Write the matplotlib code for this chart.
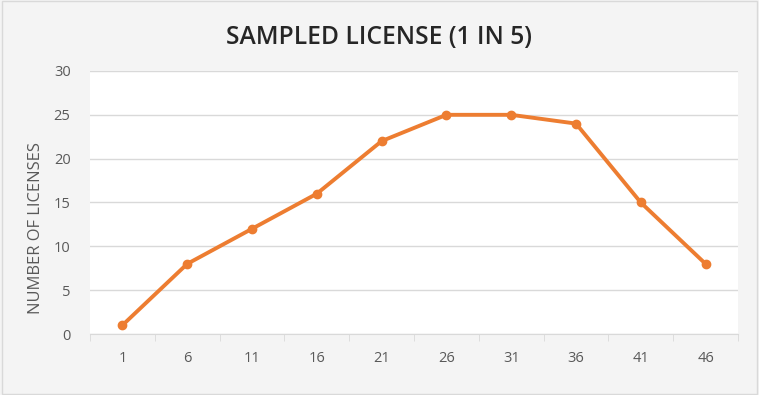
import matplotlib.pyplot as plt
import numpy as np

plt.rcParams['font.family'] = ['Open Sans', 'DejaVu Sans']

categories = ['1', '6', '11', '16', '21', '26', '31', '36', '41', '46']
licenses = [1, 8, 12, 16, 22, 25, 25, 24, 15, 8]

fig = plt.figure(figsize=(7.59, 3.95), dpi=100, facecolor='#f4f4f4')
ax = fig.add_axes([0.1186, 0.1544, 0.8537, 0.6659])
ax.set_facecolor('white')

x = np.arange(len(categories))
ax.plot(x, licenses, color='#ed7d31', lw=2.8, marker='o', markersize=6, zorder=3)

ax.set_xlim(-0.5, len(categories) - 0.5)
ax.set_ylim(0, 30)
ax.set_yticks(range(0, 31, 5))
ax.set_xticks(x)
ax.set_xticklabels(categories)
ax.set_xticks(np.arange(-0.5, len(categories)), minor=True)
ax.tick_params(axis='x', which='major', length=0, pad=12, labelsize=10.5, labelcolor='#595959')
ax.tick_params(axis='x', which='minor', length=5, color='#d9d9d9', direction='out')
ax.tick_params(axis='y', length=0, pad=14, labelsize=10.5, labelcolor='#595959')
ax.grid(axis='y', color='#d9d9d9', lw=1)
ax.set_axisbelow(True)
for s in ['top', 'right', 'left']:
    ax.spines[s].set_visible(False)
ax.spines['bottom'].set_color('#d9d9d9')

fig.text(0.047, 0.423, 'NUMBER OF LICENSES', rotation=90, ha='center', va='center',
         fontsize=11.9, color='#595959')
fig.text(0.5, 0.905, 'SAMPLED LICENSE (1 IN 5)', ha='center', va='center',
         fontsize=17.7, fontweight='semibold', color='#262626')

border = plt.Rectangle((0.003, 0.003), 0.994, 0.994, transform=fig.transFigure,
                       fill=False, edgecolor='#d9d9d9', lw=1)
fig.patches.append(border)

plt.savefig('out.png', dpi=100, facecolor=fig.get_facecolor())
